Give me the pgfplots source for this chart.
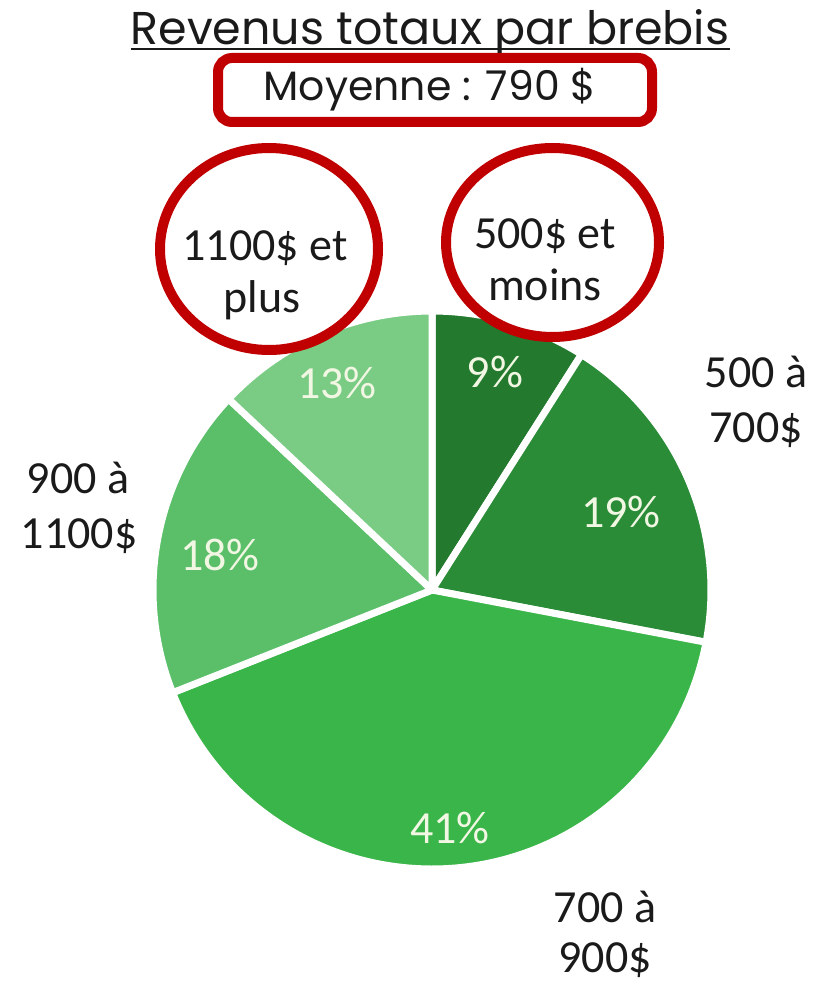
\documentclass[border=0pt]{standalone}
\usepackage{pgfplots}
\pgfplotsset{compat=1.18}
\usepgfplotslibrary{polar}
\usepackage{fontspec}
\setmainfont{Carlito}
\newfontfamily\titlefont{Poppins}
\definecolor{g1}{HTML}{237A2E}
\definecolor{g2}{HTML}{2A8C37}
\definecolor{g3}{HTML}{3AB54A}
\definecolor{g4}{HTML}{5BBF6A}
\definecolor{g5}{HTML}{7ACC85}
\definecolor{redc}{HTML}{C00000}
\definecolor{lbl}{HTML}{F2F7E4}
\definecolor{txt}{HTML}{1A1A1A}
\begin{document}
\begin{tikzpicture}
\useasboundingbox (0,0) rectangle (815pt,-987pt);
% shares (%): 9, 19, 41, 18, 13 -> angles clockwise from 90 deg
\begin{polaraxis}[at={(432pt,-590pt)}, anchor=center, hide axis, scale only axis,
  width=558pt, height=558pt, xmin=0, xmax=360, ymin=0, ymax=279, clip=false]
\addplot[fill=g1, draw=white, line width=7pt, line join=round, domain=57.6:90, samples=40] {279} -- (axis cs:0,0) -- cycle;
\addplot[fill=g2, draw=white, line width=7pt, line join=round, domain=-10.8:57.6, samples=60] {279} -- (axis cs:0,0) -- cycle;
\addplot[fill=g3, draw=white, line width=7pt, line join=round, domain=-158.4:-10.8, samples=120] {279} -- (axis cs:0,0) -- cycle;
\addplot[fill=g4, draw=white, line width=7pt, line join=round, domain=-223.2:-158.4, samples=60] {279} -- (axis cs:0,0) -- cycle;
\addplot[fill=g5, draw=white, line width=7pt, line join=round, domain=90:136.8, samples=40] {279} -- (axis cs:0,0) -- cycle;
\end{polaraxis}
% percentage labels
\begin{scope}[every node/.style={inner sep=0pt, text=lbl, font=\fontsize{46}{55}\selectfont}]
\node at (495pt,-372pt) {9\%};
\node at (621pt,-512pt) {19\%};
\node at (450pt,-828pt) {41\%};
\node at (220pt,-555pt) {18\%};
\node at (337pt,-383pt) {13\%};
\end{scope}
% category labels
\begin{scope}[every node/.style={inner sep=0pt, anchor=base, text=txt, font=\fontsize{46}{55}\selectfont}]
\node at (756pt,-387pt) {500 à};
\node at (756pt,-442pt) {700\$};
\node at (78pt,-493pt) {900 à};
\node at (79pt,-548pt) {1100\$};
\node at (605pt,-922pt) {700 à};
\node at (605pt,-972pt) {900\$};
\node at (265pt,-260pt) {1100\$ et};
\node at (262pt,-312pt) {plus};
\node at (545pt,-248pt) {500\$ et};
\node at (545pt,-300pt) {moins};
\end{scope}
% title
\node[inner sep=0pt, anchor=base, text=txt, font=\titlefont\fontsize{46}{52}\selectfont] (T) at (430pt,-45pt) {Revenus totaux par brebis};
\draw[txt, line width=2pt] (T.base west) ++(0,-4pt) -- ([yshift=-4pt]T.base east);
\node[inner sep=0pt, anchor=base, text=txt, font=\titlefont\fontsize{41}{48}\selectfont] at (430pt,-101pt) {Moyenne : 790 \$};
% highlights
\draw[redc, line width=10pt, rounded corners=14pt] (218pt,-58pt) rectangle (652pt,-122pt);
\draw[redc, line width=10pt] (269pt,-249pt) ellipse (109pt and 101pt);
\draw[redc, line width=10pt] (552.5pt,-242.5pt) ellipse (106.5pt and 94.5pt);
\end{tikzpicture}
\end{document}
